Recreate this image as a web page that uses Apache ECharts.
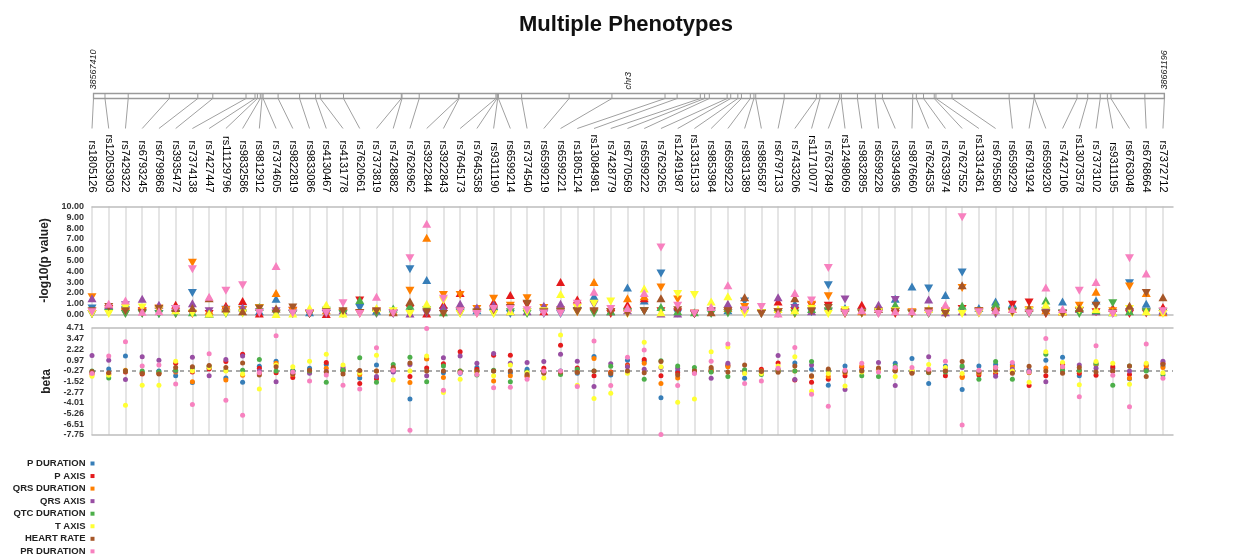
<!DOCTYPE html>
<html><head><meta charset="utf-8">
<script src="https://cdn.jsdelivr.net/npm/echarts@6/dist/echarts.min.js"></script>
<style>html,body{margin:0;padding:0;background:#fff}#c{width:1238px;height:559px}</style>
</head><body><div id="c"></div>
<script>
const snps = ['rs1805126','rs12053903','rs7429322','rs6793245','rs6799868','rs3935472','rs7374138','rs7427447','rs11129796','rs9832586',
'rs9812912','rs7374605','rs9822819','rs9833086','rs4130467','rs4131778','rs7620661','rs7373819','rs7428882','rs7626962',
'rs3922844','rs3922843','rs7645173','rs7645358','rs9311190','rs6599214','rs7374540','rs6599219','rs6599221','rs1805124',
'rs13084981','rs7428779','rs6770569','rs6599222','rs7629265','rs12491987','rs13315133','rs9853984','rs6599223','rs9831389',
'rs9856587','rs6797133','rs7433206','rs11710077','rs7637849','rs12498069','rs9832895','rs6599228','rs3934936','rs9876660',
'rs7624535','rs7633974','rs7627552','rs13314361','rs6795580','rs6599229','rs6791924','rs6599230','rs7427106','rs13073578',
'rs7373102','rs9311195','rs6763048','rs6768664','rs7372712'];
const snpPositions = [38567410,38568417,38570449,38574049,38576545,38577858,38580766,38581554,38581764,38582018,
38582167,38582264,38583577,38585460,38586862,38587273,38589305,38594367,38594428,38595935,
38599368,38599429,38602652,38602749,38602810,38602871,38604903,38609063,38612812,38617462,
38618522,38620554,38620930,38621342,38622901,38623216,38623838,38624153,38624933,38625248,
38625406,38627902,38630722,38631028,38632754,38632902,38634312,38635880,38636502,38639156,
38639471,38640101,38641039,38641187,38642597,38647598,38649788,38649823,38653545,38654482,
38655577,38656199,38656514,38659483,38661196];
const chromName = 'chr3';
const regionStart = 38567410;
const regionEnd = 38661196;

const phenotypes = ['P DURATION','P AXIS','QRS DURATION','QRS AXIS','QTC DURATION','T AXIS','HEART RATE','PR DURATION'];
const colors = ['#377eb8','#e41a1c','#ff7f00','#984ea3','#4daf4a','#ffff33','#a65628','#f781bf'];

// -log10(p value)
const logpPDuration = [0.55,0.2,1.05,0.1,0.05,0.5,2.0,0.1,0.45,0.45, 0.3,1.45,0.1,0.2,0.7,0.1,0.6,0.35,0.05,4.2, 3.2,0.3,0.2,0.4,0.15,0.05,0.2,0.05,0.05,0.3, 1.7,0.2,2.5,1.3,3.8,0.1,0.05,0.1,0.4,1.2, 0.1,0.2,1.0,0.2,2.7,0.6,0.2,0.2,1.45,2.6, 2.4,1.8,3.9,0.6,1.2,1.0,0.3,0.8,1.2,0.3, 1.3,0.2,2.9,1.0,0.3];
const logpPAxis = [0.05,0.5,0.1,0.3,0.35,0.9,0.05,0.05,0.8,1.25, 0.1,0.1,0.35,0.05,0.05,0.1,1.3,0.2,0.1,0.5, 0.1,0.9,2.0,0.1,1.15,1.8,0.9,0.3,3.0,1.4, 0.2,0.05,0.9,1.5,0.3,0.2,0.05,0.2,0.8,0.3, 0.15,1.2,0.3,0.8,0.8,0.2,0.9,0.1,0.05,0.1, 0.1,0.2,0.5,0.2,0.3,0.9,1.1,0.05,0.3,0.3, 0.2,0.6,0.05,0.1,0.7];
const logpQrsDuration = [1.6,0.35,0.2,0.2,0.55,0.05,4.8,0.35,0.4,0.4, 0.6,2.0,0.3,0.1,0.4,0.2,0.1,0.15,0.3,2.2, 7.1,1.8,1.8,0.5,1.45,0.8,1.5,0.6,0.4,0.2, 3.0,0.2,1.5,1.7,2.5,1.4,0.1,0.3,0.6,0.7, 0.15,0.2,0.05,0.9,1.7,0.05,0.3,0.3,0.3,0.2, 0.2,0.3,2.45,0.3,0.7,0.5,0.4,0.4,0.3,0.8, 2.1,0.3,2.6,2.0,0.2];
const logpQrsAxis = [1.5,0.8,0.85,1.45,0.9,0.1,1.05,0.3,0.6,0.65, 0.2,0.3,0.05,0.1,0.05,0.4,0.1,0.05,0.1,0.1, 0.1,0.7,1.0,0.65,0.9,0.3,0.3,0.8,1.0,0.9, 0.9,0.3,0.4,0.3,0.1,0.1,0.05,0.3,1.0,0.3, 0.05,1.6,0.6,0.3,0.2,1.4,0.1,0.9,1.35,0.1, 1.4,0.2,0.3,0.1,0.05,0.2,0.1,0.3,0.1,0.5, 0.3,0.1,0.2,0.2,0.4];
const logpQtcDuration = [0.02,0.15,0.05,0.05,0.02,0.05,0.2,0.1,0.05,0.1, 0.7,0.05,0.05,0.05,0.35,0.05,1.35,0.1,0.55,0.8, 0.4,0.2,0.1,0.15,0.1,0.2,0.05,0.2,0.2,0.3, 0.1,0.3,0.2,0.3,0.7,0.3,0.2,0.05,0.1,0.2, 0.1,0.05,0.1,0.5,0.3,0.1,0.1,0.1,0.9,0.05, 0.05,0.1,0.8,0.2,1.0,0.3,0.05,1.3,0.1,0.05, 0.4,1.05,0.3,0.2,0.2];
const logpTAxis = [0.05,0.05,0.6,0.65,0.4,0.4,0.1,0.1,0.1,0.1, 0.55,0.05,0.1,0.6,0.9,0.1,0.1,0.6,0.3,0.05, 1.0,1.3,0.05,0.1,0.05,0.3,0.2,0.3,1.9,0.6, 1.0,1.2,0.05,2.4,0.2,1.9,1.8,1.2,1.7,0.05, 0.1,0.5,0.4,0.5,0.05,0.4,0.1,0.2,0.3,0.1, 0.5,0.4,0.05,0.1,0.2,0.1,0.3,0.9,0.3,0.4, 0.5,0.2,0.5,0.3,0.05];
const logpHeartRate = [0.3,0.7,0.3,0.15,0.5,0.6,0.6,1.5,0.55,0.3, 0.55,0.55,0.65,0.05,0.2,0.3,0.15,0.3,0.2,1.2, 0.2,0.05,0.3,0.2,0.4,0.6,1.0,0.2,0.2,0.3, 0.3,0.2,0.1,0.3,1.5,0.4,0.05,0.2,0.3,1.6, 0.05,0.2,1.5,0.3,0.6,0.1,0.1,0.5,0.2,0.1, 0.3,0.05,2.7,0.3,0.2,0.2,0.6,0.1,0.05,0.6, 0.8,0.1,0.8,2.0,1.6];
const logpPrDuration = [0.2,1.0,1.3,0.25,0.3,0.5,4.2,1.65,2.2,2.7, 0.15,4.5,0.1,0.1,0.15,1.05,0.05,1.65,0.1,5.2, 8.4,1.45,0.3,0.05,0.5,0.5,0.4,0.1,0.1,1.0, 2.1,0.5,0.6,2.0,6.2,0.8,0.1,0.7,2.7,0.4, 0.7,0.1,2.0,1.3,4.3,0.1,0.4,0.05,0.3,0.3, 0.1,0.9,9.0,0.2,0.4,0.5,0.1,2.5,0.5,2.2, 3.0,0.05,5.2,3.8,0.3];

// beta
const betaPDuration = [-0.4,-0.05,1.45,-0.45,-0.3,-0.85,-1.65,0.05,-1.1,-1.6, 0.25,0.85,-0.3,0.02,0.45,-0.3,-1.1,0.4,-0.35,-3.55, 1.15,-0.5,-0.55,0.1,-0.3,-0.5,-0.1,-0.4,-0.3,-0.55, 1.4,-0.75,0.95,0.85,-3.4,-0.3,-0.3,-0.1,0.3,-1.15, -0.3,-0.1,0.65,-0.1,-1.95,0.3,-0.2,-0.1,0.6,1.15, -1.75,0.3,-2.45,0.3,0.45,0.4,-0.2,0.95,1.3,-0.85, 0.4,0.02,-1.2,0.4,0.3];
const betaPAxis = [-0.5,-0.6,-0.4,-0.65,-0.55,0.6,-0.4,-0.05,0.8,1.65, 0.02,-0.5,-1.05,-0.3,0.7,-0.1,-1.75,-1.2,-0.2,-0.95, 0.05,0.55,1.95,-0.1,1.55,1.55,-0.95,0.02,2.7,0.05, -0.85,-0.4,0.4,1.05,-0.85,-0.5,-0.3,-0.35,0.4,-0.3, -0.1,0.65,-1.35,-1.6,-1.25,-0.85,0.15,-0.2,-0.1,-0.3, -0.3,-0.85,-0.95,-0.75,-0.6,-0.3,-2.0,-0.85,0.5,-0.55, -0.8,0.2,-0.7,-0.1,0.6];
const betaQrsDuration = [-0.7,-0.7,-0.2,-0.5,-0.55,-0.4,-1.55,0.3,-1.35,-0.8, -0.6,0.6,-0.7,-0.35,0.02,-0.3,-0.7,-0.3,0.02,-1.65, 1.1,-1.05,-0.3,-0.35,-1.45,-0.85,-0.85,-0.45,-0.6,-0.4, 1.15,-0.5,0.3,0.6,-1.75,-1.1,-0.4,-0.2,0.2,-0.4, -0.3,-0.2,-0.3,-0.95,-0.95,-0.5,0.3,-0.3,-0.2,-0.4, -0.35,-0.2,-1.05,-0.55,0.1,0.2,-0.5,0.05,0.1,-0.3, 0.5,-0.3,-1.15,0.3,0.1];
const betaQrsAxis = [1.5,0.95,-1.3,1.35,0.95,-0.3,1.3,-0.85,1.05,1.45, -0.3,-1.55,-0.5,-0.55,-0.35,0.1,-0.3,-0.95,-0.4,0.45, -0.85,1.25,1.45,0.6,1.75,0.6,0.7,0.8,1.65,0.85, -2.1,0.55,0.2,-0.1,0.1,0.02,-0.5,-1.15,0.6,-0.5, -0.4,1.5,-1.3,0.4,-0.3,-2.45,-0.3,0.7,-2.0,-0.5, 1.35,0.02,0.1,-0.3,-0.9,-0.1,-0.3,-1.55,-0.3,0.4, 0.02,-0.3,-0.3,-0.2,0.85];
const betaQtcDuration = [-0.3,-1.1,-0.3,-0.3,-0.4,-0.2,0.05,0.25,-0.2,-0.2, 1.05,-0.3,-0.25,-0.3,-1.6,-0.2,1.25,-1.6,0.45,1.3, -1.55,0.3,-0.3,-0.75,-0.2,-1.55,-0.4,-0.4,-0.7,-0.1, -0.3,0.25,-0.35,-1.25,0.9,0.3,0.1,-0.4,-0.95,-0.15, -0.7,-0.35,-0.3,0.8,-0.2,-0.3,-0.85,-0.95,0.3,-0.3, -0.5,-0.4,0.3,-1.25,0.8,-1.25,-0.4,1.65,-0.2,-0.2, 0.6,-1.95,0.3,-0.3,-0.75];
const betaTAxis = [-0.9,-0.8,-4.3,-1.95,-1.95,0.85,-0.3,0.1,-0.3,-0.65, -2.4,0.4,0.2,0.85,1.65,0.4,-0.5,1.55,-1.35,-0.3, 1.45,-2.8,-1.25,-0.4,-0.85,0.4,-0.5,-1.1,3.9,-1.95, -3.5,-2.9,-0.55,3.05,0.2,-3.95,-3.55,1.95,2.5,-0.6, -0.6,0.3,1.35,-2.65,-0.6,-2.05,-0.4,-0.3,-0.95,-0.2, 0.45,0.1,-0.6,-0.4,-0.3,-0.3,-1.6,1.95,0.7,-1.9, 0.8,0.6,-1.85,0.6,-0.5];
const betaHeartRate = [-0.35,-0.5,-0.3,-0.6,-0.65,0.1,0.2,0.35,0.1,0.65, -0.75,0.2,-0.65,-0.2,-0.4,-0.65,-0.25,-0.3,0.1,0.65, -0.3,-0.3,-0.4,-0.3,-0.3,-0.3,-0.7,-0.55,-0.4,-0.45, -0.3,-0.6,-0.3,-0.5,0.8,-0.75,-0.3,0.1,-0.4,0.4, -0.35,-0.45,0.3,-0.85,-0.05,-0.4,-0.3,0.05,-0.3,-0.55, -0.45,-0.3,0.8,-0.45,-0.2,-0.55,0.25,-0.3,-0.55,0.1, -0.4,-0.3,0.3,-0.95,0.5];
const betaPrDuration = [-0.6,1.45,3.1,0.3,0.4,-1.8,-4.2,1.7,-3.7,-5.45, -0.5,3.8,-0.4,-1.45,-0.75,-1.95,-2.4,2.4,-0.2,-7.2, 4.65,-2.55,-0.5,-0.7,-2.25,-2.2,-1.25,-0.3,-0.3,-2.1, 3.2,-2.0,1.3,2.15,-7.7,-2.0,-0.6,0.85,2.85,-1.75, -1.45,0.02,2.45,-3.0,-4.4,-0.2,0.6,-0.4,0.1,0.1, -0.1,0.85,-6.6,-0.2,0.1,0.7,-0.4,3.5,0.2,-3.3, 2.65,-0.8,-4.45,2.85,-1.15];

const betaTicks = [-7.754,-6.507,-5.26,-4.014,-2.767,-1.52,-0.273,0.974,2.22,3.467,4.714];

const logpSets = [logpPDuration,logpPAxis,logpQrsDuration,logpQrsAxis,logpQtcDuration,logpTAxis,logpHeartRate,logpPrDuration];
const betaSets = [betaPDuration,betaPAxis,betaQrsDuration,betaQrsAxis,betaQtcDuration,betaTAxis,betaHeartRate,betaPrDuration];

const FONT = "'Liberation Sans', Arial, sans-serif";
const IDX_MAX = 64.6;
const connectorBottomY = 128.5;
const frameLine = {show:true, onZero:false, lineStyle:{color:'#bdbdbd', width:1.5}};
const vSplit = {show:true, showMinLine:true, showMaxLine:false, lineStyle:{color:'#dcdcdc', width:1.5}};

const chart = echarts.init(document.getElementById('c'), null, {renderer:'canvas'});

const series = [];
phenotypes.forEach((name, k) => {
  series.push({
    name, type:'scatter', xAxisIndex:0, yAxisIndex:0, clip:false,
    symbol:'triangle', symbolSize:[9,8], itemStyle:{color:colors[k], opacity:1},
    data: snps.map((s, i) => ({value:[i, logpSets[k][i]], symbolRotate: betaSets[k][i] < 0 ? 180 : 0})),
    z: 3 + k
  });
});
phenotypes.forEach((name, k) => {
  const s = {
    name, type:'scatter', xAxisIndex:2, yAxisIndex:1, clip:false,
    symbol:'circle', symbolSize:5, itemStyle:{color:colors[k], opacity:1},
    data: snps.map((s2, i) => [i, betaSets[k][i]]),
    z: 3 + k
  };
  if (k === 0) {
    s.markLine = {silent:true, symbol:'none', label:{show:false},
      lineStyle:{color:'#aaaaaa', type:[4,4], width:2},
      data:[{yAxis: betaTicks[6]}], z:1};
  }
  series.push(s);
});
// chromosome bar
series.push({
  type:'custom', xAxisIndex:4, yAxisIndex:2, silent:true, clip:false,
  data:[[regionStart, regionEnd]],
  renderItem(params, api) {
    const a = api.coord([api.value(0), 1]);
    const b = api.coord([api.value(1), 0]);
    return {type:'rect', shape:{x:a[0], y:a[1], width:b[0]-a[0], height:b[1]-a[1]},
      style:{fill:'#ffffff', stroke:'#9a9a9a', lineWidth:1.3}};
  }
});
series.push({
  type:'custom', xAxisIndex:4, yAxisIndex:2, silent:true, clip:false,
  data: snpPositions.map(p => [p, 0]),
  renderItem(params, api) {
    const a = api.coord([api.value(0), 1]);
    const b = api.coord([api.value(0), 0]);
    return {type:'line', shape:{x1:a[0], y1:a[1], x2:b[0], y2:b[1]}, style:{stroke:'#9a9a9a', lineWidth:1}};
  }
});

const idxAxisBase = {type:'value', min:0, max:IDX_MAX, interval:1, axisTick:{show:false}};

chart.setOption({
  animation:false,
  textStyle:{fontFamily:FONT},
  title:{text:'Multiple Phenotypes', left:514, top:9,
    textStyle:{fontSize:22, fontWeight:'bold', color:'#111', fontFamily:FONT}},
  legend:{data:phenotypes, orient:'vertical', align:'right', right:1143.5, top:457.5,
    itemWidth:4, itemHeight:4, itemGap:0.55, padding:0, icon:'rect', selectedMode:false,
    textStyle:{fontSize:9.5, fontWeight:'bold', color:'#222', lineHeight:12, fontFamily:FONT}},
  grid:[
    {left:92, right:65, top:206.5, height:108},
    {left:92, right:65, top:328, height:107},
    {left:93.5, right:73.6, top:93.5, height:5}
  ],
  xAxis:[
    Object.assign({}, idxAxisBase, {gridIndex:0, position:'bottom', axisLine:frameLine, axisLabel:{show:false}, splitLine:vSplit}),
    Object.assign({}, idxAxisBase, {gridIndex:0, position:'top', axisLine:frameLine, splitLine:{show:false},
      axisLabel:{show:true, rotate:90, margin:14, fontSize:11, color:'#000', fontFamily:FONT,
        formatter:v => { const r = Math.round(v); return Math.abs(v - r) < 1e-6 && snps[r] ? snps[r] : ''; }}}),
    Object.assign({}, idxAxisBase, {gridIndex:1, position:'bottom', axisLine:frameLine, axisLabel:{show:false}, splitLine:vSplit}),
    Object.assign({}, idxAxisBase, {gridIndex:1, position:'top', axisLine:frameLine, axisLabel:{show:false}, splitLine:{show:false}}),
    {type:'value', gridIndex:2, position:'top', min:regionStart, max:regionEnd,
      axisLine:{show:false}, axisTick:{show:false}, splitLine:{show:false},
      axisLabel:{show:true, customValues:[regionStart, (regionStart+regionEnd)/2, regionEnd], showMinLabel:true, showMaxLabel:true,
        rotate:90, margin:4, fontSize:9, fontStyle:'italic', color:'#222', fontFamily:FONT,
        formatter:v => (Math.abs(v - (regionStart+regionEnd)/2) < 1 ? chromName : String(Math.round(v)))}}
  ],
  yAxis:[
    {type:'value', gridIndex:0, min:0, max:10, interval:1,
      axisLine:{show:false}, axisTick:{show:false}, splitLine:{show:false},
      axisLabel:{fontSize:9, fontWeight:'bold', color:'#333', margin:8, padding:[0,0,5,0], formatter:v => v.toFixed(2)},
      name:'-log10(p value)', nameLocation:'middle', nameGap:23,
      nameTextStyle:{fontSize:12, fontWeight:'bold', color:'#222'}},
    {type:'value', gridIndex:1, min:betaTicks[0], max:betaTicks[betaTicks.length-1],
      axisLine:{show:false}, axisTick:{show:false}, splitLine:{show:false},
      axisLabel:{customValues:betaTicks, fontSize:9, fontWeight:'bold', color:'#333', margin:8, padding:[0,0,5,0], formatter:v => v.toFixed(2)},
      name:'beta', nameLocation:'middle', nameGap:23,
      nameTextStyle:{fontSize:12, fontWeight:'bold', color:'#222'}},
    {type:'value', gridIndex:2, min:0, max:1, show:false}
  ],
  series
});

// connectors from genomic position on the bar to each SNP label
const connectors = snps.map((s, i) => {
  const top = chart.convertToPixel({gridIndex:2}, [snpPositions[i], 0]);
  const bx = chart.convertToPixel({xAxisIndex:1}, i);
  return {type:'line', silent:true, z:1,
    shape:{x1:top[0], y1:top[1], x2:bx, y2:connectorBottomY},
    style:{stroke:'#a0a0a0', lineWidth:1}};
});
chart.setOption({graphic: connectors});
</script>
</body></html>
